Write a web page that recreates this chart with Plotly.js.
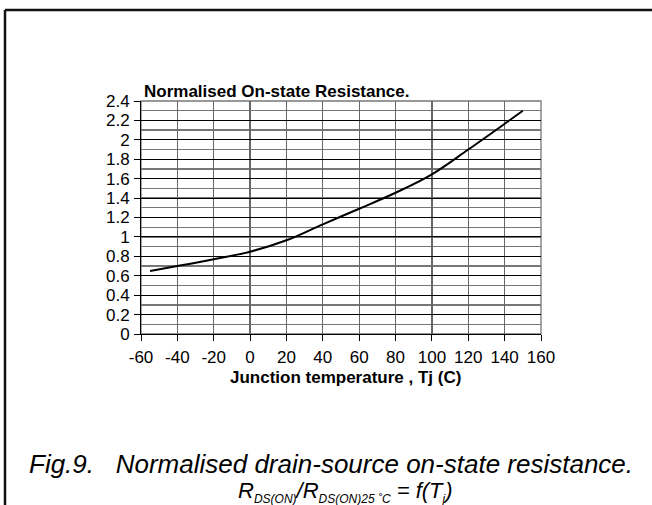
<!DOCTYPE html>
<html><head><meta charset="utf-8">
<script src="https://cdn.plot.ly/plotly-3.0.1.min.js"></script>
<style>body{margin:0;padding:0;background:#fff}#chart{width:652px;height:505px}</style>
</head><body><div id="chart"></div>
<script>
const temperature = [-55, -40, -20, 0, 20, 40, 60, 80, 100, 120, 140, 150];
const resistance = [0.65, 0.70, 0.77, 0.848, 0.965, 1.13, 1.29, 1.455, 1.645, 1.90, 2.165, 2.30];
const xTicks = [-60, -40, -20, 0, 20, 40, 60, 80, 100, 120, 140, 160];
const yTicks = [0, 0.2, 0.4, 0.6, 0.8, 1, 1.2, 1.4, 1.6, 1.8, 2, 2.2, 2.4];
const chartTitle = 'Normalised On-state Resistance.';
const xTitle = 'Junction temperature , Tj (C)';
const caption1 = 'Fig.9.   Normalised drain-source on-state resistance.';
const sub = s => '<sub><span style="font-size:12px">' + s + '</span></sub>';
const caption2 = 'R' + sub('DS(ON)') + '/R' + sub('DS(ON)25 ˚C') + ' = f(T' + sub('j') + ')';

const W = 652, H = 505, L = 141, R = 111, T = 101, B = 171;
const pw = W - L - R, ph = H - T - B;
const px = x => (x - L) / pw;
const py = y => (H - B - y) / ph;
const font = 'Liberation Sans, Arial, sans-serif';

const trace = {
  x: temperature, y: resistance, type: 'scatter', mode: 'lines',
  line: {color: '#000', width: 2, shape: 'spline', smoothing: 1},
  hoverinfo: 'skip'
};

const layout = {
  width: W, height: H,
  margin: {l: L, r: R, t: T, b: B, pad: 0},
  paper_bgcolor: '#fff', plot_bgcolor: '#fff',
  showlegend: false,
  font: {family: font, size: 17, color: '#000'},
  xaxis: {
    range: [-60, 160], tickmode: 'array', tickvals: xTicks,
    ticktext: xTicks.map(String),
    showgrid: true, gridcolor: '#666', gridwidth: 1.3,
    zeroline: false, showline: true, linecolor: '#000', linewidth: 1,
    ticks: 'outside', ticklen: 6, tickcolor: '#000',
    tickfont: {family: font, size: 17, color: '#000'},
    ticklabelstandoff: 2
  },
  yaxis: {
    range: [0, 2.4], tickmode: 'array', tickvals: yTicks,
    ticktext: yTicks.map(v => String(v)),
    showgrid: true, gridcolor: '#000', gridwidth: 1,
    minor: {dtick: 0.1, showgrid: true, gridcolor: '#777', gridwidth: 1.3, ticks: ''},
    zeroline: false, showline: true, linecolor: '#000', linewidth: 1,
    ticks: 'outside', ticklen: 6, tickcolor: '#000',
    tickfont: {family: font, size: 17, color: '#000'},
    ticklabelstandoff: 1
  },
  shapes: [
    {type: 'rect', xref: 'paper', yref: 'paper', x0: 0, x1: 1, y0: 0, y1: 1,
     line: {color: '#777', width: 1.3}, layer: 'below'},
    {type: 'line', xref: 'paper', yref: 'paper', x0: px(5), x1: px(5), y0: py(10), y1: py(506),
     line: {color: '#111', width: 2.5}},
    {type: 'line', xref: 'paper', yref: 'paper', x0: px(5), x1: px(653), y0: py(10), y1: py(10),
     line: {color: '#111', width: 2.5}}
  ],
  annotations: [
    {text: '<b>' + chartTitle + '</b>', xref: 'paper', yref: 'paper',
     x: px(142), y: py(91), xanchor: 'left', yanchor: 'middle', showarrow: false,
     font: {family: font, size: 17, color: '#000'}},
    {text: '<b>' + xTitle + '</b>', xref: 'paper', yref: 'paper',
     x: px(345), y: py(377), xanchor: 'center', yanchor: 'middle', showarrow: false,
     font: {family: font, size: 17, color: '#000'}},
    {text: '<i>' + caption1 + '</i>', xref: 'paper', yref: 'paper',
     x: px(331), y: py(464), xanchor: 'center', yanchor: 'middle', showarrow: false,
     font: {family: font, size: 26, color: '#000'}},
    {text: '<i>' + caption2 + '</i>', xref: 'paper', yref: 'paper',
     x: px(345), y: py(492), xanchor: 'center', yanchor: 'middle', showarrow: false,
     font: {family: font, size: 22, color: '#000'}}
  ]
};

Plotly.newPlot('chart', [trace], layout, {staticPlot: true, displayModeBar: false});
</script></body></html>
